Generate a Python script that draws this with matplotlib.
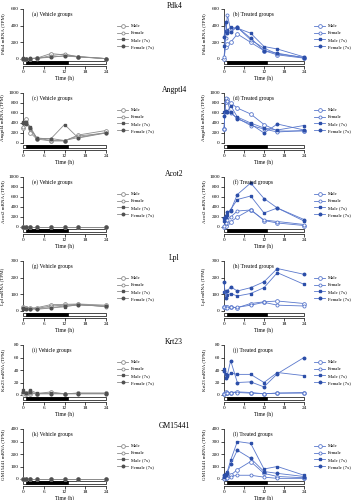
import matplotlib
matplotlib.use("Agg")
import matplotlib.pyplot as plt
import matplotlib.transforms as mtransforms
from matplotlib.patches import Rectangle
from matplotlib.lines import Line2D

plt.rcParams['font.family'] = ['Liberation Serif', 'DejaVu Serif']

# time points (h)
t_veh = [0, 1, 2, 4, 8, 12, 16, 24]
t_trt = [0, 0.5, 1, 2, 4, 8, 12, 16, 24]
groups = ['Male', 'Female', 'Male (7x)', 'Female (7x)']
genes = ['Pdk4', 'Angptl4', 'Acot2', 'Lpl', 'Krt23', 'GM15441']
y_max = [600, 1000, 1000, 300, 80, 400]
y_step = [200, 200, 200, 100, 20, 100]

# each: [Male, Female, Male (7x), Female (7x)]  (TPM)
pdk4_veh = [[5, 5, 5, 10, 65, 50, 30, 5],
            [5, 5, 5, 5, 40, 60, 25, 5],
            [5, 5, 5, 10, 20, 40, 28, 5],
            [10, 5, 8, 10, 25, 35, 25, 5]]
pdk4_trt = [[0, 150, 180, 200, 300, 200, 100, 50, 10],
            [20, 250, 530, 350, 380, 230, 130, 60, 20],
            [160, 340, 350, 380, 370, 310, 150, 120, 25],
            [260, 440, 310, 330, 380, 250, 100, 70, 15]]

angptl4_veh = [[300, 480, 210, 80, 40, 40, 160, 250],
               [320, 420, 280, 100, 50, 50, 140, 200],
               [420, 430, 330, 100, 80, 370, 100, 200],
               [400, 380, 300, 90, 90, 50, 110, 210]]
angptl4_trt = [[280, 820, 880, 800, 700, 580, 370, 240, 240],
               [280, 900, 850, 600, 500, 350, 280, 220, 250],
               [620, 630, 620, 750, 520, 400, 300, 260, 350],
               [550, 640, 620, 620, 480, 380, 200, 380, 260]]

acot2_veh = [[5, 5, 5, 5, 5, 5, 5, 5],
             [5, 5, 5, 5, 5, 5, 5, 5],
             [5, 5, 5, 5, 5, 5, 5, 5],
             [5, 5, 5, 5, 5, 5, 5, 5]]
acot2_trt = [[0, 30, 80, 100, 200, 350, 130, 80, 30],
             [30, 80, 150, 200, 320, 340, 140, 110, 50],
             [130, 200, 250, 350, 550, 620, 280, 380, 120],
             [180, 230, 300, 330, 650, 880, 570, 380, 150]]

lpl_veh = [[22, 20, 18, 20, 38, 40, 42, 35],
           [20, 18, 15, 15, 30, 35, 40, 25],
           [15, 15, 12, 10, 18, 25, 38, 28],
           [18, 15, 15, 15, 20, 30, 35, 30]]
lpl_trt = [[25, 22, 22, 22, 20, 45, 55, 60, 45],
           [22, 20, 20, 22, 22, 35, 52, 35, 30],
           [115, 120, 95, 105, 90, 105, 140, 230, 160],
           [175, 80, 120, 145, 120, 140, 175, 255, 220]]

krt23_veh = [[3, 2, 2, 2, 5, 2, 3, 3],
             [2, 3, 3, 2, 2, 2, 2, 2],
             [8, 3, 8, 3, 3, 2, 3, 3],
             [5, 3, 5, 2, 2, 2, 2, 2]]
krt23_trt = [[2, 5, 4, 4, 5, 4, 2, 3, 4],
             [1, 3, 4, 4, 4, 3, 2, 3, 3],
             [42, 33, 30, 35, 33, 33, 20, 36, 31],
             [38, 27, 32, 55, 20, 21, 13, 34, 60]]

gm15441_veh = [[0, 0, 0, 0, 0, 0, 0, 0],
               [0, 0, 0, 0, 0, 0, 0, 0],
               [0, 0, 0, 0, 0, 0, 0, 0],
               [0, 0, 0, 0, 0, 0, 0, 0]]
gm15441_trt = [[5, 10, 20, 30, 75, 140, 45, 20, 10],
               [0, 5, 10, 20, 30, 30, 15, 5, 5],
               [20, 40, 60, 150, 300, 285, 80, 100, 30],
               [30, 30, 50, 120, 230, 165, 60, 45, 20]]

vehicle = [pdk4_veh, angptl4_veh, acot2_veh, lpl_veh, krt23_veh, gm15441_veh]
treated = [pdk4_trt, angptl4_trt, acot2_trt, lpl_trt, krt23_trt, gm15441_trt]
letters = 'abcdefghijkl'

W, H = 352, 500
fig = plt.figure(figsize=(W / 100, H / 100), dpi=100)


def px_axes(x0, x1, top, bottom):
    return fig.add_axes([x0 / W, 1 - bottom / H, (x1 - x0) / W, (bottom - top) / H])


def styles(line_c, fill_c):
    return [dict(marker='o', ms=2.7, mfc='white', mec=line_c, mew=0.6),
            dict(marker='o', ms=2.2, mfc='white', mec=line_c, mew=0.6),
            dict(marker='s', ms=2.1, mfc=fill_c, mec=fill_c),
            dict(marker='o', ms=1.8, mfc=fill_c, mec=fill_c)]


gray, gray_dark = '#8c8c8c', '#505050'
blue, blue_dark = '#5a78cc', '#2c4ea8'

for i, gene in enumerate(genes):
    top = 9 + 84 * i
    ym = y_max[i]
    fig.text(0.495, 1 - (top - 3) / H, gene, ha='center', va='center', fontsize=5.5)
    for j, (x0, x1, data, t, col, colf, lab, lx) in enumerate([
            (23, 106, vehicle[i], t_veh, gray, gray_dark, 'Vehicle groups', 117),
            (224, 304, treated[i], t_trt, blue, blue_dark, 'Treated groups', 314)]):
        ax = px_axes(x0, x1, top, top + 57)
        ax.set_xlim(0, 24)
        ax.set_ylim(-ym * 7 / 50, ym)
        for s in ['top', 'right']:
            ax.spines[s].set_visible(False)
        ax.spines['left'].set_bounds(0, ym)
        for s in ['left', 'bottom']:
            ax.spines[s].set_linewidth(0.5)
        ax.set_xticks([0, 6, 12, 18, 24])
        ax.set_yticks(range(0, ym + 1, y_step[i]))
        ax.tick_params(labelsize=3.8, length=2, width=0.5, pad=1)
        ax.set_xlabel('Time (h)', fontsize=4, labelpad=1)
        ax.set_ylabel(gene + ' mRNA (TPM)', fontsize=3.6)
        ax.yaxis.set_label_coords(-18 / (x1 - x0), 0.56)

        tr = mtransforms.blended_transform_factory(ax.transData, ax.transAxes)
        ax.add_patch(Rectangle((0, 0.035), 24, 0.053, transform=tr, fc='white',
                               ec='black', lw=0.5, clip_on=False))
        ax.add_patch(Rectangle((1, 0.035), 12, 0.053, transform=tr, fc='black',
                               ec='black', lw=0.5, clip_on=False))

        st = styles(col, colf)
        handles = []
        for k, g in enumerate(groups):
            ax.plot(t, data[k], color=col, lw=0.6, clip_on=False, zorder=3, **st[k])
            handles.append(Line2D([], [], color=col, lw=0.6, **st[k]))
        ax.text(0.11, 0.91, '(%s) %s' % (letters[2 * i + j], lab),
                transform=ax.transAxes, fontsize=4, va='center')
        ax.legend(handles, groups, loc='upper left',
                  bbox_to_anchor=(lx / W, 1 - (top + 15) / H),
                  bbox_transform=fig.transFigure, frameon=False, fontsize=3.4,
                  handlelength=2.4, handletextpad=0.5, labelspacing=0.55,
                  borderpad=0, borderaxespad=0)

fig.savefig('out.png', dpi=100)
